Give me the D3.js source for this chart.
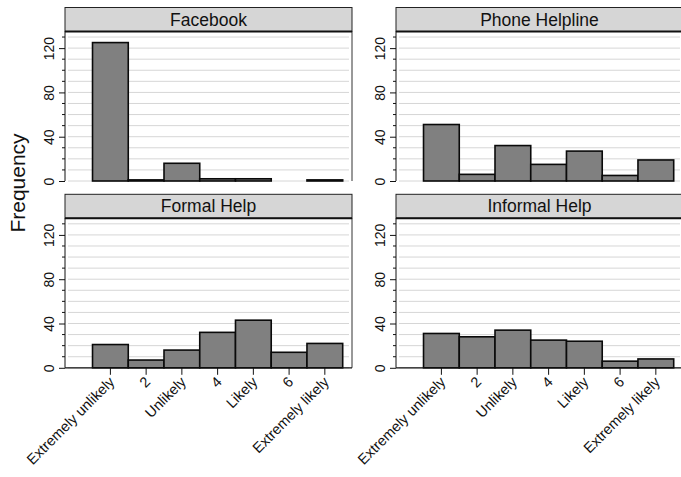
<!DOCTYPE html>
<html>
<head>
<meta charset="utf-8">
<script src="https://cdn.jsdelivr.net/npm/d3@7"></script>
<style>
    body { margin: 0; background: #fff; }
    text { font-family: Arial, "Liberation Sans", sans-serif; fill: #111; }
</style>
</head>
<body>
<div id="chart"></div>
<script>
// answer categories (x axis)
var categories = ["Extremely unlikely", "2", "Unlikely", "4", "Likely", "6", "Extremely likely"];
var panelTitles = ["Facebook", "Phone Helpline", "Formal Help", "Informal Help"];
// frequencies, one array per panel
var facebook = [125, 1, 16, 2, 2, 0, 1];
var phoneHelpline = [51, 6, 32, 15, 27, 5, 19];
var formalHelp = [21, 7, 16, 32, 43, 14, 22];
var informalHelp = [31, 28, 34, 25, 24, 6, 8];
var yTicks = [0, 40, 80, 120];
var yMinor = [0, 10, 20, 30, 40, 50, 60, 70, 80, 90, 100, 110, 120, 130];

var W = 681, H = 477;
var pw = 287, ph = 149.5, stripH = 24;
var lefts = [65, 396], tops = [31.5, 218.3];

var svg = d3.select("#chart").append("svg")
    .attr("width", W)
    .attr("height", H);

var x = d3.scaleLinear().domain([-0.27, 7.76]).range([0, pw]);
var y = d3.scaleLinear().domain([0, 135]).range([ph, 0]);

function drawPanel(i, title, values) {
    var col = i % 2, row = Math.floor(i / 2);
    var g = svg.append("g")
        .attr("transform", "translate(" + lefts[col] + "," + tops[row] + ")");

    // grid
    g.selectAll("line.grid").data(yMinor).enter()
        .append("line")
        .attr("class", "grid")
        .attr("x1", 3).attr("x2", pw - 3)
        .attr("y1", (d) => y(d)).attr("y2", (d) => y(d))
        .attr("stroke", "#d6d6d6")
        .attr("stroke-width", 1);

    // bars (empty categories get no bar)
    var pts = values.map((v, j) => ({ k: j + 1, v: v })).filter((d) => d.v > 0);
    g.selectAll("rect.bar").data(pts).enter()
        .append("rect").attr("class", "bar")
        .attr("x", (d) => x(d.k - 0.5))
        .attr("y", (d) => y(d.v))
        .attr("width", x(1.5) - x(0.5))
        .attr("height", (d) => ph - y(d.v))
        .attr("fill", "#808080")
        .attr("stroke", "#0a0a0a")
        .attr("stroke-width", 1.6);

    // frame: right border, strip
    g.append("line")
        .attr("x1", pw).attr("x2", pw)
        .attr("y1", 0).attr("y2", ph)
        .attr("stroke", "#333").attr("stroke-width", 1);
    g.append("rect")
        .attr("x", 0).attr("y", -stripH)
        .attr("width", pw).attr("height", stripH)
        .attr("fill", "#d6d6d6")
        .attr("stroke", "#222").attr("stroke-width", 1);
    g.append("line")
        .attr("x1", 0).attr("x2", pw)
        .attr("y1", 0).attr("y2", 0)
        .attr("stroke", "#111").attr("stroke-width", 2);
    g.append("text")
        .attr("x", pw / 2).attr("y", -6)
        .attr("text-anchor", "middle")
        .style("font-size", "17.5px")
        .text(title);

    // y axis
    var yAxis = g.append("g").call(d3.axisLeft(y).tickValues(yTicks).tickSize(6).tickFormat(d3.format("d")));
    yAxis.select(".domain").attr("d", "M0," + ph + "V0").attr("stroke", "#111");
    yAxis.selectAll(".tick line").attr("stroke", "#111");
    yAxis.selectAll(".tick text")
        .attr("x", null).attr("dy", null)
        .attr("transform", "translate(-11.5,0) rotate(-90)")
        .attr("text-anchor", "middle")
        .style("font-size", "14px")
        .style("font-family", "Arial, 'Liberation Sans', sans-serif");
    g.selectAll("line.minor").data(yMinor.filter((d) => yTicks.indexOf(d) < 0)).enter()
        .append("line").attr("class", "minor")
        .attr("x1", -3).attr("x2", 0)
        .attr("y1", (d) => y(d)).attr("y2", (d) => y(d))
        .attr("stroke", "#111");

    // x axis only on bottom row
    if (row == 1) {
        g.append("line")
            .attr("x1", 0).attr("x2", pw)
            .attr("y1", ph).attr("y2", ph)
            .attr("stroke", "#111").attr("stroke-width", 1.2);
        var xt = g.selectAll("g.xt").data(categories).enter()
            .append("g").attr("class", "xt")
            .attr("transform", (d, j) => "translate(" + x(j + 1) + "," + ph + ")");
        xt.append("line")
            .attr("y1", 0).attr("y2", 7)
            .attr("stroke", "#111");
        xt.append("text")
            .attr("transform", "translate(5,15) rotate(-45)")
            .attr("text-anchor", "end")
            .style("font-size", "14.5px")
            .text((d) => d);
    }
}

drawPanel(0, panelTitles[0], facebook);
drawPanel(1, panelTitles[1], phoneHelpline);
drawPanel(2, panelTitles[2], formalHelp);
drawPanel(3, panelTitles[3], informalHelp);

svg.append("text")
    .attr("transform", "translate(25,183) rotate(-90)")
    .attr("text-anchor", "middle")
    .style("font-size", "21px")
    .text("Frequency");
</script>
</body>
</html>
